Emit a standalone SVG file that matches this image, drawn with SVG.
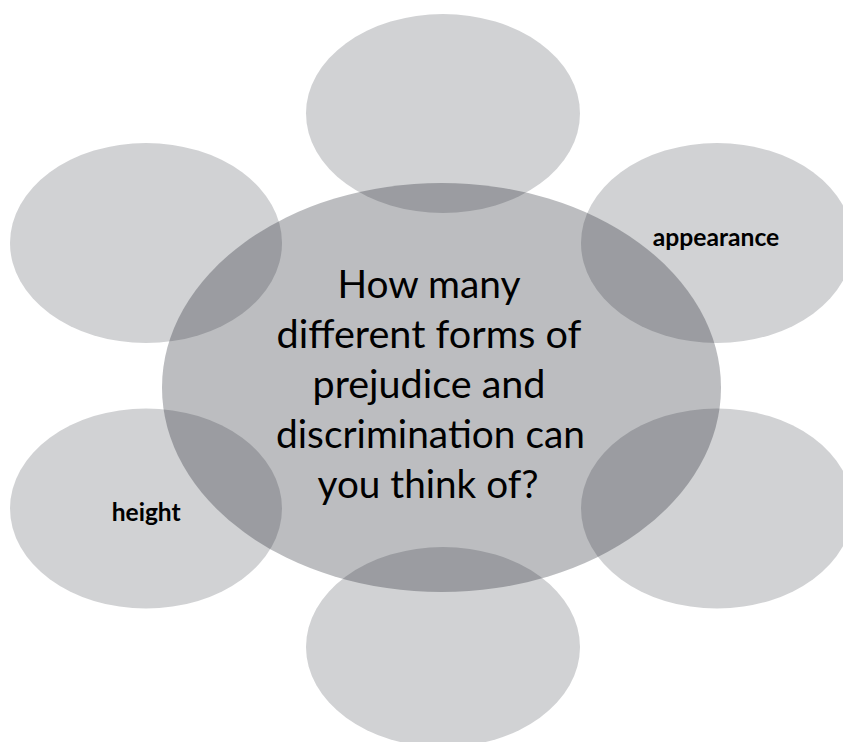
<svg xmlns="http://www.w3.org/2000/svg" width="843" height="742" viewBox="0 0 843 742">
  <style>
    .outer { fill: rgb(13,18,29); fill-opacity: 0.19; }
    .hub { fill: rgb(13,18,29); fill-opacity: 0.277; }
    .hubtext { font-family: Lato, "Liberation Sans", sans-serif; font-size: 39px; fill: #000; text-anchor: middle; }
    .label { font-family: Lato, "Liberation Sans", sans-serif; font-size: 24px; font-weight: bold; fill: #000; }
  </style>
  <rect x="0" y="0" width="843" height="742" fill="#ffffff"/>
  <g id="node-top">
    <ellipse class="outer" cx="443" cy="113.5" rx="137" ry="99.5"/>
  </g>
  <g id="node-top-left">
    <ellipse class="outer" cx="146" cy="243" rx="136" ry="100"/>
  </g>
  <g id="node-top-right">
    <ellipse class="outer" cx="717" cy="243" rx="136" ry="100"/>
    <text class="label" x="652.7" y="246" textLength="126.6" lengthAdjust="spacingAndGlyphs">appearance</text>
  </g>
  <g id="node-bottom-left">
    <ellipse class="outer" cx="146" cy="508.5" rx="136" ry="100"/>
    <text class="label" x="111.7" y="520.5" textLength="69" lengthAdjust="spacingAndGlyphs">height</text>
  </g>
  <g id="node-bottom-right">
    <ellipse class="outer" cx="717" cy="508.5" rx="136" ry="100"/>
  </g>
  <g id="node-bottom">
    <ellipse class="outer" cx="443" cy="647" rx="137" ry="100"/>
  </g>
  <g id="node-center">
    <ellipse class="hub" cx="441.5" cy="387.5" rx="279.5" ry="204.5"/>
    <text class="hubtext" x="429" y="298" textLength="183" lengthAdjust="spacingAndGlyphs">How many</text>
    <text class="hubtext" x="429" y="348" textLength="305" lengthAdjust="spacingAndGlyphs">different forms of</text>
    <text class="hubtext" x="429" y="398" textLength="233" lengthAdjust="spacingAndGlyphs">prejudice and</text>
    <text class="hubtext" x="430.5" y="448" textLength="309" lengthAdjust="spacingAndGlyphs">discrimination can</text>
    <text class="hubtext" x="428" y="498" textLength="221" lengthAdjust="spacingAndGlyphs">you think of?</text>
  </g>
</svg>
